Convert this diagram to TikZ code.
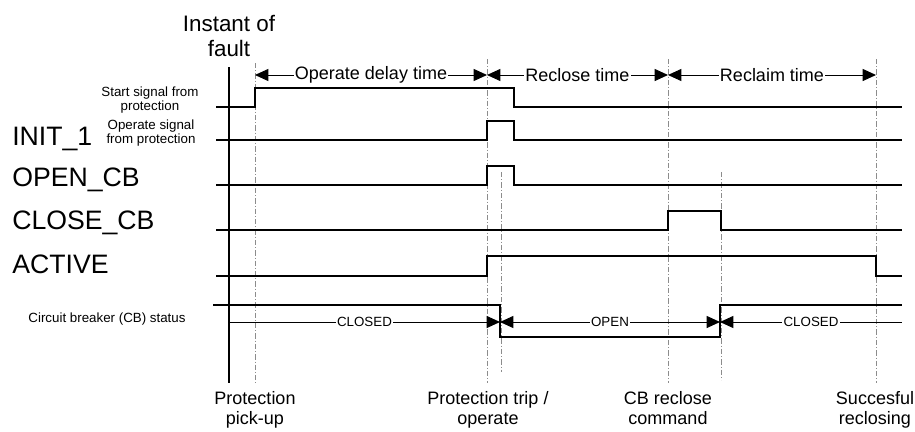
\documentclass[tikz,border=0pt]{standalone}
\usepackage{fontspec}
\setmainfont{Liberation Sans}
\usetikzlibrary{arrows.meta}
\definecolor{markgray}{RGB}{140,140,140}

\tikzset{
  signal/.style={line width=1.5pt, line join=miter},
  axisline/.style={line width=1.5pt},
  marker/.style={markgray, line width=0.7pt,
    dash pattern=on 4pt off 1.5pt on 0.8pt off 1.5pt},
  span/.style={line width=0.75pt},
  spanlabel/.style={fill=white, inner sep=1pt, font=\fontsize{13.5}{15}\selectfont},
  cblabel/.style={fill=white, inner sep=1pt, font=\fontsize{10}{11}\selectfont},
  signame/.style={anchor=base west, inner sep=0pt, font=\fontsize{20}{24}\selectfont},
  smalltext/.style={anchor=north, inner sep=0pt, align=center,
    font=\fontsize{10}{10.5}\selectfont},
  eventtext/.style={anchor=north, inner sep=0pt, align=center,
    font=\fontsize{13.5}{15}\selectfont}
}

\begin{document}
\begin{tikzpicture}[x=0.75pt, y=-0.75pt, >={Triangle[length=10pt,width=9pt]}]
  \useasboundingbox (0,0) rectangle (915,432);

  % Time instants on the two arrow rows
  \coordinate (pickup)  at (255,75);
  \coordinate (trip)    at (487,75);
  \coordinate (reclose) at (668,75);
  \coordinate (reclaim) at (876,75);
  \coordinate (cbstart) at (229,322);
  \coordinate (cbopen)  at (500,322);
  \coordinate (cbclose) at (720,322);
  \coordinate (cbend)   at (902,322);

  % Instant of fault axis
  \draw[axisline] (229,67) -- (229,383);
  \node[eventtext, font=\fontsize{16.8}{18.8}\selectfont] (faultlbl) at (229,15)
    {Instant of\\fault};

  % Event markers
  \draw[marker] (255,63) -- (255,383);
  \draw[marker] (487,59) -- (487,383);
  \draw[marker] (501,172) -- (501,372);
  \draw[marker] (668,59) -- (668,383);
  \draw[marker] (721,172) -- (721,380);
  \draw[marker] (876,59) -- (876,383);

  % Time spans
  \draw[span, <->] (pickup) -- (trip)
    node[midway, spanlabel] (delaylbl) {Operate delay time};
  \draw[span, <->] (trip) -- (reclose)
    node[midway, spanlabel] (recloselbl) {Reclose time};
  \draw[span, <->] (reclose) -- (reclaim)
    node[midway, spanlabel] (reclaimlbl) {Reclaim time};

  % Start signal from protection
  \draw[signal] (216,107) -- (255,107) -- (255,88) -- (514,88)
    -- (514,107) -- (902,107);
  \node[smalltext] (startlbl) at (150,87) {Start signal from\\protection};

  % INIT_1
  \draw[signal] (216,140) -- (487,140) -- (487,121) -- (514,121)
    -- (514,140) -- (902,140);
  \node[signame] (initlbl) at (12,145) {INIT\_1};
  \node[smalltext] (operlbl) at (151,120) {Operate signal\\from protection};

  % OPEN_CB
  \draw[signal] (216,185) -- (487,185) -- (487,166) -- (514,166)
    -- (514,185) -- (902,185);
  \node[signame] (openlbl) at (12,186) {OPEN\_CB};

  % CLOSE_CB
  \draw[signal] (216,230) -- (668,230) -- (668,211) -- (721,211)
    -- (721,230) -- (902,230);
  \node[signame] (closelbl) at (12,229) {CLOSE\_CB};

  % ACTIVE
  \draw[signal] (216,276) -- (487,276) -- (487,256) -- (876,256)
    -- (876,276) -- (902,276);
  \node[signame] (activelbl) at (12,273) {ACTIVE};

  % Circuit breaker status
  \draw[signal] (213,305) -- (500,305) -- (500,337) -- (720,337)
    -- (720,305) -- (902,305);
  \node[anchor=base, inner sep=0pt, font=\fontsize{10}{11}\selectfont] (cblbl)
    at (107,322) {Circuit breaker (CB) status};
  \draw[span, ->] (cbstart) -- (cbopen)
    node[midway, cblabel] (closed1) {CLOSED};
  \draw[span, <->] (cbopen) -- (cbclose)
    node[midway, cblabel] (openst) {OPEN};
  \draw[span, <-] (cbclose) -- (cbend)
    node[midway, cblabel] (closed2) {CLOSED};

  % Events
  \node[eventtext] (pickuplbl) at (255,391) {Protection\\pick-up};
  \node[eventtext] (triplbl) at (488,391) {Protection trip /\\operate};
  \node[eventtext] (cmdlbl) at (668,391) {CB reclose\\command};
  \node[eventtext] (okclbl) at (875,391) {Succesful\\reclosing};
\end{tikzpicture}
\end{document}
